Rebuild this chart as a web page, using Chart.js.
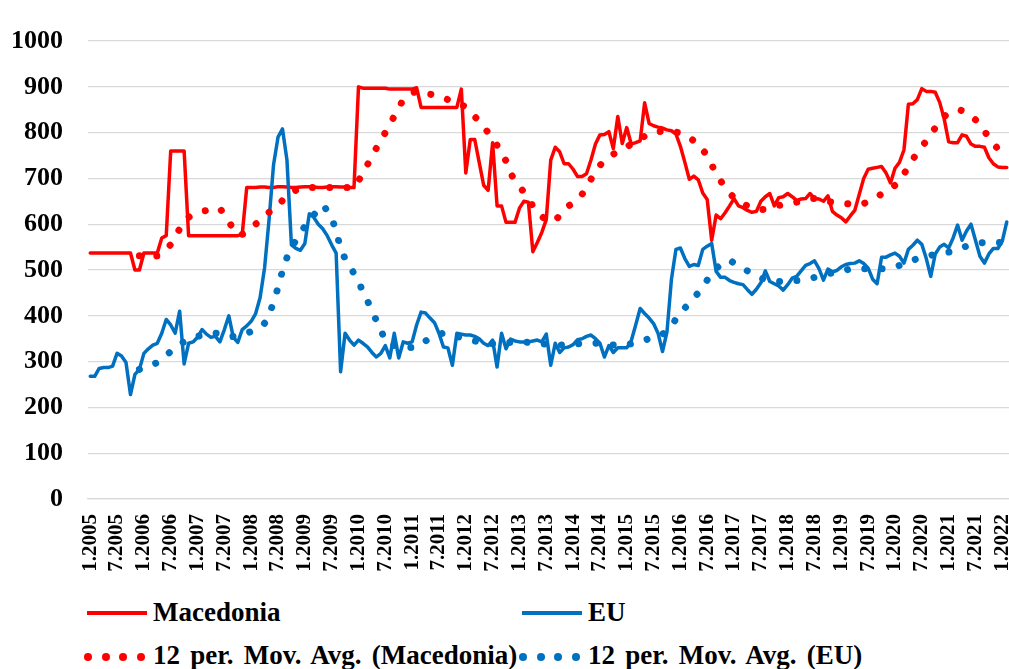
<!DOCTYPE html>
<html>
<head>
<meta charset="utf-8">
<title>Macedonia vs EU</title>
<script src="https://cdn.jsdelivr.net/npm/chart.js@4.4.1/dist/chart.umd.min.js"></script>
<style>
  body { margin: 0; background: #fff; }
  #wrap { position: relative; width: 1009px; height: 669px; overflow: hidden; }
  #chart { position: absolute; left: 0; top: 0; }
  .lg { position: absolute; font: bold 27px "Liberation Serif", "Times New Roman", serif; line-height: 27px; color: #000; white-space: nowrap; word-spacing: 3.5px; }
  .ln { position: absolute; height: 4px; }
  .dot { position: absolute; width: 8px; height: 8px; border-radius: 50%; }
</style>
</head>
<body>
<div id="wrap">
  <canvas id="chart" width="1009" height="590"></canvas>
</div>
<script>
// monthly series, 1.2005 .. 2.2022
const startYear = 2005;
const nMonths = 206;
const tickMonths = [1, 7];

const macedonia = [
  537, 537, 537, 537, 537, 537, 537, 537, 537, 537,
  500, 500, 537, 537, 537, 537, 570, 575, 760, 760,
  760, 760, 575, 575, 575, 575, 575, 575, 575, 575,
  575, 575, 575, 575, 578, 680, 680, 680, 681, 681,
  680, 680, 682, 682, 681, 680, 680, 681, 682, 682,
  681, 680, 680, 681, 682, 682, 681, 681, 680, 680,
  900, 897, 897, 897, 897, 897, 897, 895, 895, 895,
  895, 895, 895, 898, 855, 855, 855, 855, 855, 855,
  855, 855, 855, 895, 712, 785, 785, 735, 685, 674,
  778, 640, 640, 604, 604, 604, 635, 650, 648, 540,
  560, 582, 610, 740, 768, 758, 732, 732, 720, 704,
  704, 710, 740, 775, 795, 796, 802, 765, 835, 776,
  811, 775, 778, 782, 865, 820, 815, 812, 810, 806,
  804, 797, 770, 735, 698, 705, 697, 668, 654, 565,
  620, 612, 625, 640, 656, 640, 636, 630, 626, 628,
  650, 660, 667, 640, 658, 660, 667, 660, 652, 655,
  656, 667, 656, 655, 650, 662, 628, 620, 614, 605,
  618, 630, 665, 700, 720, 722, 724, 726, 712, 690,
  722, 735, 762, 862, 863, 872, 896, 890, 890, 888,
  866, 830, 780, 778, 778, 795, 792, 775, 770, 770,
  768, 745, 732, 725, 724, 724
];

const eu = [
  268, 268, 285, 287, 287, 290, 318, 312, 298, 228,
  272, 283, 318, 328, 336, 340, 362, 392, 380, 362,
  410, 295, 340, 343, 353, 370, 360, 353, 355, 343,
  370, 400, 353, 342, 370, 378, 388, 405, 440, 505,
  610, 730, 790, 808, 740, 555, 547, 543, 558, 623,
  615, 600, 590, 575, 555, 537, 278, 362, 347, 336,
  347, 340, 332, 320, 310, 318, 335, 308, 362, 308,
  343, 340, 343, 380, 408, 406, 395, 385, 362, 332,
  330, 292, 362, 360, 358, 358, 355, 350, 340, 335,
  347, 288, 362, 328, 349, 345, 343, 343, 343, 345,
  347, 343, 360, 292, 340, 320, 330, 332, 337, 348,
  350, 355, 358, 350, 340, 310, 335, 320, 330, 330,
  330, 345, 380, 416, 405, 395, 383, 362, 322, 365,
  480, 545, 548, 525, 508, 512, 510, 545, 552, 558,
  497, 484, 484, 477, 473, 470, 468, 457, 447, 458,
  472, 498, 475, 470, 465, 456, 468, 482, 486, 498,
  510, 514, 520, 503, 478, 502, 496, 499, 507, 512,
  514, 515, 520, 514, 504, 480, 470, 528, 528, 533,
  537, 530, 515, 545, 554, 565, 556, 525, 486, 535,
  550, 556, 548, 570, 598, 565, 585, 600, 565, 530,
  515, 535, 547, 547, 563, 605
];

// 12 per. moving average trendlines
const macedoniaAvg = [
  null, null, null, null, null, null, null, null, null, null,
  null, 531, 531, 531, 531, 531, 536, 545, 556, 572,
  590, 608, 615, 620, 624, 628, 630, 632, 634, 634,
  618, 605, 590, 576, 578, 583, 590, 600, 608, 618,
  626, 634, 640, 652, 662, 668, 674, 678, 680, 680,
  680, 680, 680, 680, 680, 680, 680, 680, 680, 680,
  695, 712, 730, 748, 766, 785, 800, 817, 836, 852,
  872, 880, 886, 890, 890, 888, 884, 882, 878, 875,
  872, 868, 865, 861, 855, 845, 835, 825, 812, 800,
  785, 772, 752, 738, 712, 696, 682, 670, 655, 640,
  628, 617, 610, 605, 608, 620, 632, 640, 646, 653,
  665, 682, 698, 715, 728, 740, 748, 753, 758, 762,
  768, 775, 780, 786, 792, 798, 800, 802, 803, 804,
  803, 801, 799, 796, 790, 782, 776, 762, 750, 730,
  710, 695, 680, 668, 658, 650, 645, 640, 636, 633,
  632, 633, 636, 638, 641, 643, 645, 647, 648, 651,
  653, 655, 656, 655, 653, 650, 648, 647, 646, 645,
  644, 643, 643, 645, 650, 655, 660, 666, 673, 678,
  685, 697, 710, 725, 742, 755, 769, 782, 797, 810,
  823, 835, 842, 847, 850, 848, 843, 836, 828, 818,
  803, 790, 776, 765, 755, 748
];

const euAvg = [
  null, null, null, null, null, null, null, null, null, null,
  null, 283, 286, 290, 294, 298, 305, 314, 322, 330,
  338, 343, 347, 351, 355, 357, 359, 361, 362, 360,
  357, 354, 355, 358, 360, 362, 366, 371, 376, 384,
  403, 430, 462, 498, 527, 548, 565, 582, 595, 608,
  620, 633, 642, 628, 612, 585, 548, 525, 510, 492,
  475, 452, 433, 410, 390, 370, 345, 336, 335, 333,
  332, 331, 331, 332, 338, 345, 351, 355, 359, 362,
  360, 358, 355, 352, 350, 348, 345, 343, 341, 340,
  339, 338, 340, 341, 342, 343, 343, 343, 342, 341,
  340, 339, 338, 337, 336, 336, 337, 338, 338, 339,
  339, 340, 340, 340, 340, 338, 337, 336, 335, 336,
  337, 339, 341, 344, 347, 350, 353, 356, 360, 368,
  378, 393, 406, 417, 428, 440, 450, 463, 478, 495,
  503, 512, 520, 521, 515, 508, 503, 498, 492, 487,
  483, 479, 477, 476, 475, 475, 475, 476, 477, 478,
  479, 481, 484, 487, 489, 491, 494, 496, 498, 500,
  502, 503, 503, 503, 503, 503, 503, 503, 503, 505,
  507, 510, 513, 517, 521, 525, 528, 530, 532, 534,
  535, 537, 539, 541, 545, 549, 552, 555, 557, 559,
  560, 560, 560, 560, 560, 562
];

const seriesNames = ['Macedonia', 'EU', '12 per. Mov. Avg. (Macedonia)', '12 per. Mov. Avg. (EU)'];
const red = '#FF0000';
const blue = '#0070C0';
const fontFamily = '"Liberation Serif", "Times New Roman", serif';

const months = [];
for (let k = 0; k < nMonths; k++) {
  months.push((k % 12 + 1) + '.' + (startYear + Math.floor(k / 12)));
}

function solid(label, data, color, order) {
  return {
    label: label, data: data, borderColor: color, backgroundColor: color,
    borderWidth: 3.5, pointRadius: 0, tension: 0, fill: false,
    borderJoinStyle: 'round', borderCapStyle: 'round', order: order
  };
}
function dotted(label, data, color, order) {
  return {
    label: label, data: data, borderColor: color, backgroundColor: color,
    borderWidth: 7, pointRadius: 0, tension: 0.3, fill: false,
    borderDash: [0.01, 17.3], borderCapStyle: 'round', order: order
  };
}

new Chart(document.getElementById('chart').getContext('2d'), {
  type: 'line',
  data: {
    labels: months,
    datasets: [
      solid(seriesNames[0], macedonia, red, 4),
      solid(seriesNames[1], eu, blue, 3),
      dotted(seriesNames[2], macedoniaAvg, red, 2),
      dotted(seriesNames[3], euAvg, blue, 1)
    ]
  },
  options: {
    responsive: false,
    animation: false,
    layout: { padding: { top: 41, right: 0, bottom: 0, left: 0 } },
    plugins: { legend: { display: false }, tooltip: { enabled: false } },
    scales: {
      x: {
        type: 'category',
        offset: true,
        grid: { display: false, drawTicks: false },
        border: { display: true, color: '#d9d9d9', width: 1.3 },
        ticks: {
          autoSkip: false, minRotation: 90, maxRotation: 90, padding: 15,
          color: '#000', font: { family: fontFamily, size: 21, weight: 'bold' },
          callback: function (val, idx) {
            const m = parseInt(months[idx], 10);
            return tickMonths.indexOf(m) >= 0 ? months[idx] : null;
          }
        },
        afterFit: function (s) { s.height = 91; s.paddingLeft = 0; s.paddingRight = 0; }
      },
      y: {
        min: 0, max: 1000,
        grid: { color: '#d9d9d9', lineWidth: 1.3, drawTicks: false },
        border: { display: false },
        ticks: {
          stepSize: 100, padding: 25, color: '#000',
          font: { family: fontFamily, size: 26, weight: 'bold' },
          callback: function (v) { return String(v); }
        },
        afterFit: function (s) { s.width = 88; }
      }
    }
  }
});

// legend, laid out like the original (two rows, two columns)
const wrap = document.getElementById('wrap');
const legendItems = [
  { name: seriesNames[0], color: red, dots: false, x: 87, y: 613 },
  { name: seriesNames[1], color: blue, dots: false, x: 522, y: 613 },
  { name: seriesNames[2], color: red, dots: true, x: 87, y: 657 },
  { name: seriesNames[3], color: blue, dots: true, x: 522, y: 657 }
];
legendItems.forEach(function (it) {
  if (it.dots) {
    for (let d = 0; d < 4; d++) {
      const dot = document.createElement('div');
      dot.className = 'dot';
      dot.style.background = it.color;
      dot.style.left = (it.x + 1 + d * 17.6 - 4) + 'px';
      dot.style.top = (it.y - 4) + 'px';
      wrap.appendChild(dot);
    }
  } else {
    const ln = document.createElement('div');
    ln.className = 'ln';
    ln.style.background = it.color;
    ln.style.left = it.x + 'px';
    ln.style.width = '60px';
    ln.style.top = (it.y - 2) + 'px';
    wrap.appendChild(ln);
  }
  const t = document.createElement('div');
  t.className = 'lg';
  t.textContent = it.name;
  t.style.left = (it.x + 66) + 'px';
  t.style.top = (it.y - 14 + (it.dots ? -1 : 0)) + 'px';
  wrap.appendChild(t);
});
</script>
</body>
</html>
